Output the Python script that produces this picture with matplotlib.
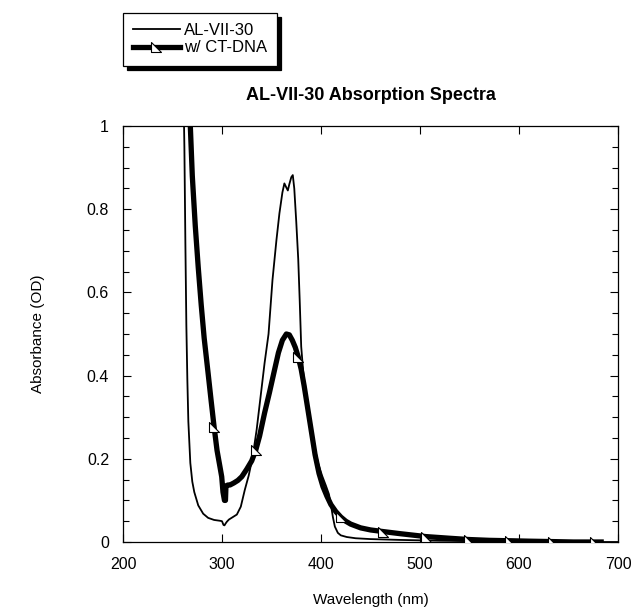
import numpy as np
import matplotlib
matplotlib.use("Agg")
import matplotlib.pyplot as plt
from matplotlib.path import Path
from matplotlib.ticker import MultipleLocator

plt.rcParams['font.family'] = ['Liberation Sans', 'DejaVu Sans']

# AL-VII-30 alone
wl_free = [259, 261, 262, 263, 264, 265, 266, 268, 270, 272, 276, 281, 286, 292, 298, 300,
           301.5, 302.5, 303.5, 305, 307, 311, 315, 319, 323, 327, 331, 335, 339, 343, 347,
           351, 355, 358, 361, 363, 365, 366.5, 368, 370, 371.5, 373, 375, 377, 378.5, 380,
           382, 385, 389, 393, 397, 401, 405, 408, 410, 412, 414, 417, 420, 426, 435, 450,
           480, 520, 560, 600, 650, 700]
abs_free = [1.3, 1.1, 0.95, 0.72, 0.52, 0.39, 0.29, 0.19, 0.145, 0.12, 0.088, 0.068, 0.058,
            0.053, 0.051, 0.05, 0.041, 0.04, 0.044, 0.049, 0.054, 0.06, 0.066, 0.085, 0.125,
            0.16, 0.205, 0.27, 0.35, 0.43, 0.5, 0.63, 0.726, 0.79, 0.84, 0.862, 0.852, 0.845,
            0.86, 0.877, 0.882, 0.85, 0.77, 0.68, 0.58, 0.47, 0.41, 0.35, 0.29, 0.235, 0.19,
            0.16, 0.135, 0.115, 0.09, 0.06, 0.037, 0.022, 0.016, 0.012, 0.009, 0.007, 0.005,
            0.003, 0.002, 0.001, 0.0, 0.0]

# with CT-DNA
wl_dna = [266, 268, 270, 273, 276, 279, 282, 286, 289, 292, 295, 298, 299.7, 301, 302.5, 303.5,
          304, 306, 308, 312, 316, 320, 325, 330, 334, 338, 343, 348, 353, 357, 361, 365, 368,
          371, 374, 377, 380, 383, 386, 390, 394, 398, 402, 406, 410, 415, 420, 425, 430, 440,
          450, 463, 480, 506, 530, 549, 570, 591, 610, 634, 655, 677, 683]
abs_dna = [1.12, 1.0, 0.88, 0.76, 0.66, 0.57, 0.49, 0.405, 0.34, 0.277, 0.22, 0.18, 0.157, 0.12,
           0.10, 0.10, 0.135, 0.137, 0.137, 0.142, 0.148, 0.157, 0.175, 0.195, 0.22, 0.255,
           0.31, 0.36, 0.413, 0.455, 0.485, 0.50, 0.498, 0.485, 0.468, 0.445, 0.415, 0.375,
           0.33, 0.27, 0.21, 0.165, 0.133, 0.11, 0.09, 0.073, 0.06, 0.05, 0.043, 0.034, 0.029,
           0.025, 0.02, 0.013, 0.009, 0.006, 0.004, 0.003, 0.002, 0.001, 0.0, 0.0, 0.0]
marker_wl = [292, 334, 377, 420, 463, 506, 549, 591, 634, 677]

mark_idx = [i for i, w in enumerate(wl_dna) if w in marker_wl]

tri = Path([(-1, 1), (-1, -1), (1, -1), (-1, 1)],
           [Path.MOVETO, Path.LINETO, Path.LINETO, Path.CLOSEPOLY])

fig = plt.figure(figsize=(6.36, 6.15), dpi=100)
ax = fig.add_axes([123/636, 1-542/615, 495/636, 416/615])

l1, = ax.plot(wl_free, abs_free, color='black', lw=1.3, label='AL-VII-30', zorder=2)
l2, = ax.plot(wl_dna, abs_dna, color='black', lw=3.8, marker=tri, markevery=mark_idx,
              markersize=6.5, markerfacecolor='white', markeredgecolor='black',
              markeredgewidth=0.8, label='w/ CT-DNA', zorder=3)

ax.set_xlim(200, 700)
ax.set_ylim(0, 1)
ax.xaxis.set_major_locator(MultipleLocator(100))
ax.yaxis.set_minor_locator(MultipleLocator(0.05))
ax.set_yticks([0, 0.2, 0.4, 0.6, 0.8, 1.0])
ax.set_yticklabels(['0', '0.2', '0.4', '0.6', '0.8', '1'])
ax.tick_params(which='both', direction='in', top=True, right=True, labelsize=11.5, width=0.8)
ax.tick_params(which='major', length=6)
ax.tick_params(which='minor', length=4)
ax.tick_params(axis='x', which='major', pad=11)
ax.tick_params(axis='y', which='major', pad=10)
for s in ax.spines.values():
    s.set_linewidth(0.9)

ax.set_xlabel('Wavelength (nm)', fontsize=11, labelpad=15)
ax.set_ylabel('Absorbance (OD)', fontsize=11, labelpad=30)
ax.set_title('AL-VII-30 Absorption Spectra', fontsize=13, fontweight='bold', pad=19)

leg = fig.legend(handles=[l1, l2], loc='upper left', bbox_to_anchor=(123/636, 1-13/615),
                 frameon=True, fancybox=False,
                 shadow={'color': 'black', 'alpha': 1, 'ox': 3, 'oy': -3},
                 fontsize=12, handlelength=2.8, handletextpad=0.25, borderpad=0.6,
                 labelspacing=0.15, borderaxespad=0)
leg.get_frame().set_edgecolor('black')
leg.get_frame().set_linewidth(0.9)

fig.savefig('out.png', dpi=100)
